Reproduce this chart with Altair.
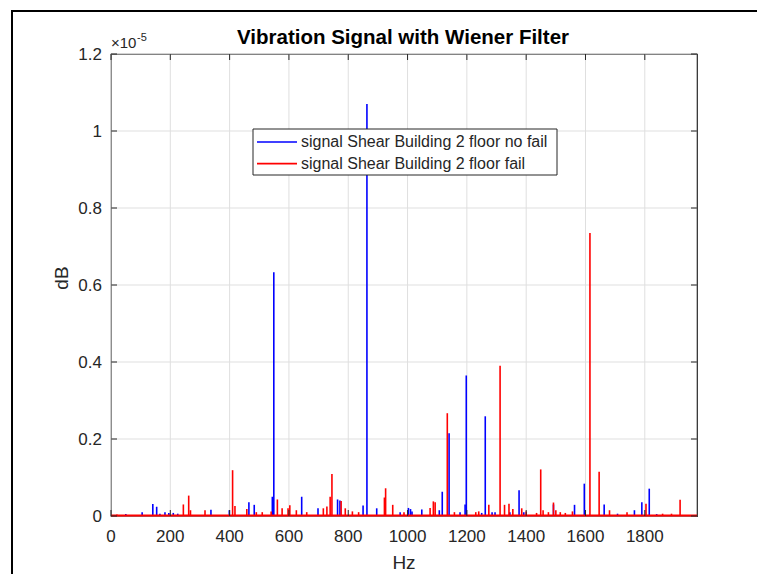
import altair as alt
import pandas as pd

# ---------------- data ----------------
blue_freq = [50, 105, 141, 154, 165, 182, 195, 210, 225, 337, 399, 465, 483, 544, 549,
             643, 698, 764, 772, 850, 863, 896, 975, 1003, 1010, 1015, 1048, 1107, 1117,
             1140, 1177, 1194, 1198, 1250, 1262, 1285, 1295, 1345, 1376, 1392, 1492, 1563,
             1596, 1663, 1708, 1765, 1790, 1815, 1840]
blue_amp = [0.005, 0.010, 0.031, 0.024, 0.006, 0.010, 0.008, 0.008, 0.006, 0.016, 0.015,
            0.036, 0.029, 0.050, 0.633, 0.050, 0.020, 0.043, 0.040, 0.027, 1.070, 0.020,
            0.010, 0.021, 0.018, 0.012, 0.017, 0.015, 0.063, 0.215, 0.010, 0.030, 0.365,
            0.008, 0.259, 0.010, 0.010, 0.010, 0.067, 0.010, 0.030, 0.029, 0.084, 0.030,
            0.006, 0.015, 0.036, 0.071, 0.005]

red_freq = [20, 244, 262, 268, 317, 410, 418, 458, 490, 510, 540, 561, 577, 597, 603, 625,
            660, 716, 728, 739, 745, 776, 790, 814, 835, 922, 926, 950, 988, 1076, 1087,
            1093, 1134, 1158, 1230, 1240, 1274, 1312, 1327, 1342, 1355, 1385, 1400, 1435,
            1449, 1457, 1475, 1492, 1500, 1515, 1532, 1556, 1615, 1646, 1681, 1740, 1804,
            1860, 1890, 1919]
red_amp = [0.004, 0.030, 0.053, 0.015, 0.015, 0.119, 0.026, 0.018, 0.010, 0.010, 0.012,
           0.043, 0.020, 0.020, 0.028, 0.015, 0.010, 0.020, 0.025, 0.050, 0.109, 0.039,
           0.020, 0.012, 0.010, 0.048, 0.072, 0.029, 0.010, 0.021, 0.038, 0.036, 0.267,
           0.010, 0.010, 0.012, 0.029, 0.390, 0.029, 0.032, 0.018, 0.020, 0.012, 0.008,
           0.121, 0.015, 0.010, 0.035, 0.015, 0.010, 0.008, 0.012, 0.735, 0.115, 0.015,
           0.010, 0.032, 0.006, 0.006, 0.042]

series_names = ["signal Shear Building 2 floor no fail", "signal Shear Building 2 floor fail"]
series_colors = ["#0000ff", "#ff0000"]

x_ticks = [0, 200, 400, 600, 800, 1000, 1200, 1400, 1600, 1800]
x_tick_labels = ["0", "200", "400", "600", "800", "1000", "1200", "1400", "1600", "1800"]
y_ticks = [0, 0.2, 0.4, 0.6, 0.8, 1.0, 1.2]
y_tick_labels = ["0", "0.2", "0.4", "0.6", "0.8", "1", "1.2"]
x_max = 1976
y_max = 1.2

title_text = "Vibration Signal with Wiener Filter"
x_title = "Hz"
y_title = "dB"
exp_base = "\u00d710"
exp_power = "-5"

# ---------------- layout ----------------
W, H = 586, 462
FONT = "Liberation Sans"
TXT = "#262626"
GRID = "#dfdfdf"

xs = alt.Scale(domain=[0, x_max], nice=False, zero=False)
ys = alt.Scale(domain=[0, y_max], nice=False, zero=False)

blue_df = pd.DataFrame({"f": blue_freq, "a": blue_amp})
red_df = pd.DataFrame({"f": red_freq, "a": red_amp})
xt = pd.DataFrame({"t": x_ticks, "lab": x_tick_labels})
yt = pd.DataFrame({"t": y_ticks, "lab": y_tick_labels})
one = pd.DataFrame({"k": [0]})

X = lambda f: alt.X(f, scale=xs, axis=None)
Y = lambda f: alt.Y(f, scale=ys, axis=None)

# grid
grid_x = alt.Chart(xt).mark_rule(color=GRID, strokeWidth=1).encode(
    x=X("t:Q"), y=alt.value(0), y2=alt.value(H))
grid_y = alt.Chart(yt).mark_rule(color=GRID, strokeWidth=1).encode(
    y=Y("t:Q"), x=alt.value(0), x2=alt.value(W))

# tick labels
xlabels = alt.Chart(xt).mark_text(font=FONT, fontSize=17, color=TXT, align="center",
                                  baseline="alphabetic").encode(
    x=X("t:Q"), y=alt.value(488), text="lab:N")
ylabels = alt.Chart(yt).mark_text(font=FONT, fontSize=17, color=TXT, align="right",
                                  baseline="alphabetic", dy=6).encode(
    y=Y("t:Q"), x=alt.value(-9), text="lab:N")

# data
blue_spikes = alt.Chart(blue_df).mark_rule(color=series_colors[0], strokeWidth=1.6).encode(
    x=X("f:Q"), y=Y("a:Q"), y2=alt.value(H))
red_spikes = alt.Chart(red_df).mark_rule(color=series_colors[1], strokeWidth=1.6).encode(
    x=X("f:Q"), y=Y("a:Q"), y2=alt.value(H))
red_base = alt.Chart(one).mark_rule(color=series_colors[1], strokeWidth=2).encode(
    x=alt.value(0), x2=alt.value(W), y=alt.value(H - 0.5))

# inward ticks (box style)
tick_style = dict(color=TXT, strokeWidth=1)
xt_bot = alt.Chart(xt).mark_rule(**tick_style).encode(
    x=X("t:Q"), y=alt.value(H), y2=alt.value(H - 6))
xt_top = alt.Chart(xt).mark_rule(**tick_style).encode(
    x=X("t:Q"), y=alt.value(0), y2=alt.value(6))
yt_left = alt.Chart(yt).mark_rule(**tick_style).encode(
    y=Y("t:Q"), x=alt.value(0), x2=alt.value(6))
yt_right = alt.Chart(yt).mark_rule(**tick_style).encode(
    y=Y("t:Q"), x=alt.value(W), x2=alt.value(W - 6))

# texts
title = alt.Chart(one).mark_text(text=title_text, font=FONT, fontSize=20.5, fontWeight="bold",
                                 color="#000000", align="center", baseline="alphabetic").encode(
    x=alt.value(W / 2 - 1), y=alt.value(-10))
xlab = alt.Chart(one).mark_text(text=x_title, font=FONT, fontSize=19, color=TXT,
                                align="center", baseline="middle").encode(
    x=alt.value(W / 2), y=alt.value(509))
ylab = alt.Chart(one).mark_text(text=y_title, font=FONT, fontSize=19, color=TXT, angle=270,
                                align="center", baseline="middle").encode(
    x=alt.value(-49), y=alt.value(224))
exp1 = alt.Chart(one).mark_text(text=exp_base, font=FONT, fontSize=15, color=TXT,
                                align="left", baseline="alphabetic").encode(
    x=alt.value(0), y=alt.value(-6))
exp2 = alt.Chart(one).mark_text(text=exp_power, font=FONT, fontSize=11, color=TXT,
                                align="left", baseline="alphabetic").encode(
    x=alt.value(26), y=alt.value(-13))

# manual legend
leg_box = alt.Chart(one).mark_rect(fill="white", stroke=TXT, strokeWidth=1).encode(
    x=alt.value(142), x2=alt.value(446), y=alt.value(75), y2=alt.value(121))
leg_layers = [leg_box]
for i, (name, col) in enumerate(zip(series_names, series_colors)):
    yy = 88 + i * 21.6
    leg_layers.append(alt.Chart(one).mark_rule(color=col, strokeWidth=1.6).encode(
        x=alt.value(146), x2=alt.value(186), y=alt.value(yy)))
    leg_layers.append(alt.Chart(one).mark_text(text=name, font=FONT, fontSize=16, color=TXT,
                                               align="left", baseline="middle").encode(
        x=alt.value(190), y=alt.value(yy)))

# outer figure frame (top and left edges visible)
frame_top = alt.Chart(one).mark_rule(color="#000000", strokeWidth=2).encode(
    x=alt.value(-100), x2=alt.value(W + 70), y=alt.value(-43))
frame_left = alt.Chart(one).mark_rule(color="#000000", strokeWidth=2).encode(
    x=alt.value(-99), y=alt.value(-44), y2=alt.value(H + 70))

chart = alt.layer(
    grid_x, grid_y,
    blue_spikes, red_spikes, red_base,
    xt_bot, xt_top, yt_left, yt_right,
    xlabels, ylabels,
    title, xlab, ylab, exp1, exp2,
    *leg_layers,
    frame_top, frame_left,
).properties(
    width=W, height=H,
    autosize=alt.AutoSizeParams(type="none"),
    padding={"left": 111, "top": 54, "right": 60, "bottom": 58},
    background="white",
).configure_view(stroke=TXT, strokeWidth=1.2)

chart.save("out.html", embed_options={"renderer": "svg", "actions": False})
